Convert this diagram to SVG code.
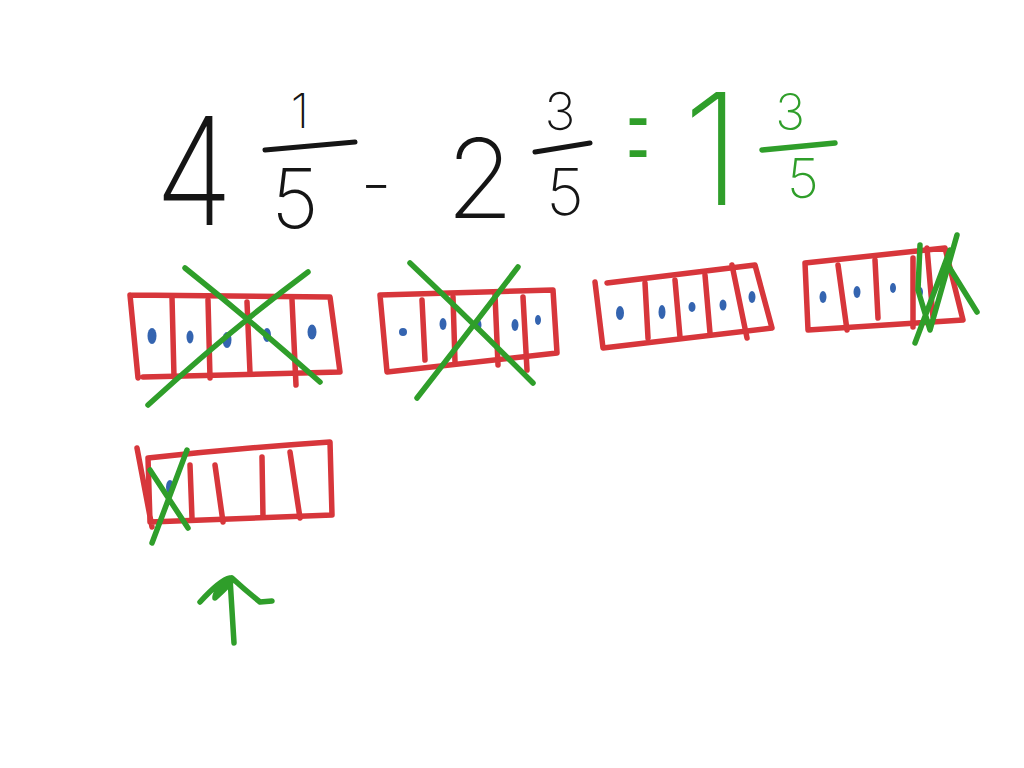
<svg xmlns="http://www.w3.org/2000/svg" width="1024" height="768" viewBox="0 0 1024 768">
<style>
.bg{fill:#ffffff}
.r{fill:none;stroke:#d7363b;stroke-width:5.5;stroke-linecap:round;stroke-linejoin:round}
.g{fill:none;stroke:#2f9e2a;stroke-width:5.5;stroke-linecap:round;stroke-linejoin:round}
.k{fill:none;stroke:#151515;stroke-width:5;stroke-linecap:round;stroke-linejoin:round}
.b{fill:#3464b0}
.tk{font-family:Inter,"Liberation Sans",sans-serif;font-weight:200;fill:#151515}
.tg{font-family:Inter,"Liberation Sans",sans-serif;font-weight:200;fill:#2f9e2a}
</style>
<rect class="bg" x="0" y="0" width="1024" height="768"/>
<g id="equation">
  <text class="tk" x="155" y="225" font-size="150" textLength="78" lengthAdjust="spacingAndGlyphs">4</text>
  <text class="tk" x="300" y="128" font-size="48" text-anchor="middle">1</text>
  <path class="k" d="M265,150 L355,142"/>
  <text class="tk" x="295" y="228" font-size="82" text-anchor="middle">5</text>
  <text class="tk" x="376" y="208" font-size="70" font-weight="300" text-anchor="middle">-</text>
  <text class="tk" x="480" y="218" font-size="110" text-anchor="middle">2</text>
  <text class="tk" x="560" y="130" font-size="52" text-anchor="middle">3</text>
  <path class="k" d="M535,152 L590,143"/>
  <text class="tk" x="565" y="215" font-size="65" text-anchor="middle">5</text>
  <text class="tg" x="0" y="0" font-size="90" font-weight="100" text-anchor="middle" transform="translate(638,184) scale(0.5,1.8)">=</text>
  <text class="tg" x="712" y="205" font-size="155" text-anchor="middle">1</text>
  <text class="tg" x="790" y="130" font-size="50" text-anchor="middle">3</text>
  <path class="g" d="M762,150 L835,143"/>
  <text class="tg" x="803" y="198" font-size="55" text-anchor="middle">5</text>
</g>
<g id="bar1">
  <path class="r" d="M130,295 L330,297 L340,372 L143,377 M130,295 L138,378"/>
  <path class="r" d="M172,297 L174,377 M208,300 L210,378 M247,302 L250,373 M292,300 L296,385"/>
  <ellipse class="b" cx="152" cy="336" rx="4.5" ry="8"/>
  <ellipse class="b" cx="190" cy="337" rx="3.5" ry="6.5"/>
  <ellipse class="b" cx="227" cy="340" rx="4.5" ry="8"/>
  <ellipse class="b" cx="267" cy="335" rx="4" ry="7"/>
  <ellipse class="b" cx="312" cy="332" rx="4.5" ry="7.5"/>
  <path class="g" d="M185,268 Q250,320 320,382 M308,272 Q230,330 148,405"/>
</g>
<g id="bar2">
  <path class="r" d="M380,295 L553,290 L557,353 L387,372 L380,295"/>
  <path class="r" d="M422,300 L425,360 M453,297 L455,362 M495,295 L498,365 M523,297 L527,370"/>
  <ellipse class="b" cx="403" cy="332" rx="4" ry="4"/>
  <ellipse class="b" cx="443" cy="324" rx="3.5" ry="6"/>
  <ellipse class="b" cx="478" cy="325" rx="3.5" ry="6"/>
  <ellipse class="b" cx="515" cy="325" rx="3.5" ry="6"/>
  <ellipse class="b" cx="538" cy="320" rx="3" ry="5"/>
  <path class="g" d="M410,263 Q470,320 533,383 M518,267 Q470,330 417,398"/>
</g>
<g id="bar3">
  <path class="r" d="M607,283 L755,265 L772,328 L603,348 M595,282 L603,348"/>
  <path class="r" d="M645,283 L648,338 M675,280 L680,337 M705,275 L710,333 M732,265 L747,338"/>
  <ellipse class="b" cx="620" cy="313" rx="4" ry="7"/>
  <ellipse class="b" cx="662" cy="312" rx="3.5" ry="7"/>
  <ellipse class="b" cx="692" cy="307" rx="3.5" ry="5"/>
  <ellipse class="b" cx="723" cy="305" rx="3.5" ry="5.5"/>
  <ellipse class="b" cx="752" cy="297" rx="3.5" ry="6"/>
</g>
<g id="bar4">
  <path class="r" d="M805,263 L945,248 L963,320 L808,330 L805,263"/>
  <path class="r" d="M838,265 L847,330 M875,260 L878,318 M913,258 L913,327 M927,248 L933,317"/>
  <ellipse class="b" cx="823" cy="297" rx="3.5" ry="6"/>
  <ellipse class="b" cx="857" cy="292" rx="3.5" ry="6"/>
  <ellipse class="b" cx="893" cy="288" rx="3" ry="5"/>
  <ellipse class="b" cx="920" cy="292" rx="3" ry="5"/>
  <ellipse class="b" cx="942" cy="282" rx="3" ry="6"/>
  <path class="g" d="M920,245 L918,290 L930,330 L957,235 M915,343 L935,290 L950,250 M946,262 L977,312"/>
</g>
<g id="bar5">
  <path class="r" d="M148,458 Q240,448 330,442 L332,515 L150,522 L148,458 M137,448 L152,527"/>
  <path class="r" d="M190,465 L192,518 M215,465 L223,522 M262,457 L263,517 M290,452 L300,518"/>
  <ellipse class="b" cx="170" cy="487" rx="4" ry="7"/>
  <path class="g" d="M187,450 L152,543 M150,470 L188,528"/>
</g>
<g id="arrow">
  <path class="g" d="M230,578 L234,643 M200,602 Q220,580 230,578 Q215,590 215,598 Q235,580 232,578 Q245,590 260,602 L272,601"/>
</g>
</svg>
